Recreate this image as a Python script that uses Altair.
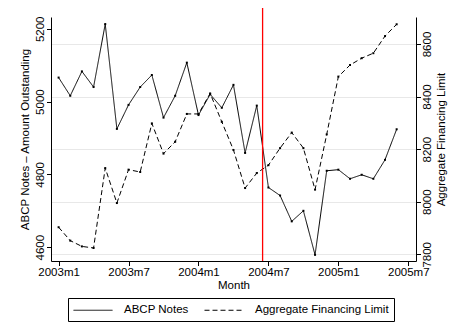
import altair as alt
import pandas as pd

# month index 0 = 2003m1 ... 29 = 2005m6
months = list(range(30))
abcp_notes = [5066, 5016, 5083, 5040, 5213, 4925, 4991, 5040, 5073, 4956,
              5016, 5107, 4963, 5020, 4983, 5046, 4859, 4989, 4764, 4742,
              4671, 4700, 4579, 4810, 4813, 4788, 4799, 4788, 4840, 4924]
agg_limit = [7903, 7852, 7830, 7824, 8128, 7995, 8122, 8113, 8298, 8183,
             8228, 8334, 8334, 8412, 8304, 8197, 8052, 8109, 8139, 8204,
             8263, 8204, 8046, 8256, 8476, 8520, 8546, 8565, 8630, 8675]
series_names = ["ABCP Notes", "Aggregate Financing Limit"]
x_tick_values = [0, 6, 12, 18, 24, 30]
x_tick_labels = ["2003m1", "2003m7", "2004m1", "2004m7", "2005m1", "2005m7"]
left_ticks = [4600, 4800, 5000, 5200]
right_ticks = [7800, 8000, 8200, 8400, 8600]
event_month = [17.5]

df = pd.DataFrame({"month": months, "abcp": abcp_notes, "afl": agg_limit})
ev = pd.DataFrame({"month": event_month, "lo": [4562.1], "hi": [5264.0]})

FONT = "Liberation Sans"
x_dom = [-0.652, 30.66]
left_dom = [4562.1, 5232.4]
right_dom = [7774.5, 8702.7]

label_expr = "[" + ",".join("'%s'" % s for s in x_tick_labels) + "][datum.value/6]"

x_enc = alt.X("month:Q", scale=alt.Scale(domain=x_dom, nice=False, zero=False),
              axis=alt.Axis(values=x_tick_values, labelExpr=label_expr, title="Month",
                            grid=False, tickSize=4.5, labelPadding=1, titlePadding=1,
                            domainColor="black", tickColor="black"))

dash_scale = alt.Scale(domain=series_names, range=[[1, 0], [5, 3]])

base = alt.Chart(df)

left_y = alt.Y("abcp:Q", scale=alt.Scale(domain=left_dom, nice=False, zero=False),
               axis=alt.Axis(values=left_ticks, format="d",
                             title="ABCP Notes – Amount Outstanding",
                             grid=False, orient="left", labelAngle=270, labelAlign="center",
                             labelBaseline="bottom", tickSize=4.5, labelPadding=1,
                             titlePadding=4, domainColor="black", tickColor="black"))

line_a = base.transform_calculate(series="'ABCP Notes'").mark_line(
    color="black", strokeWidth=1).encode(
    x=x_enc, y=left_y,
    strokeDash=alt.StrokeDash("series:N", scale=dash_scale,
                              legend=alt.Legend(title=None)))
pts_a = base.mark_square(color="black", size=4, opacity=1).encode(x="month:Q", y="abcp:Q")
rule = alt.Chart(ev).mark_rule(color="red", strokeWidth=1.3, clip=False).encode(
    x="month:Q", y="lo:Q", y2="hi:Q")

left_layer = alt.layer(line_a, pts_a, rule)

right_y = alt.Y("afl:Q", scale=alt.Scale(domain=right_dom, nice=False, zero=False),
                axis=alt.Axis(values=right_ticks, format="d",
                              title="Aggregate Financing Limit",
                              grid=True, gridColor="#e8e8e8", gridWidth=1,
                              orient="right", labelAngle=270, labelAlign="center",
                              labelBaseline="top", titleAngle=270, titleBaseline="top",
                              tickSize=4.5, labelPadding=1, titlePadding=2,
                              domainColor="black", tickColor="black"))

line_b = base.transform_calculate(series="'Aggregate Financing Limit'").mark_line(
    color="black", strokeWidth=1).encode(
    x="month:Q", y=right_y,
    strokeDash=alt.StrokeDash("series:N", scale=dash_scale))
pts_b = base.mark_square(color="black", size=4, opacity=1).encode(x="month:Q", y="afl:Q")

right_layer = alt.layer(line_b, pts_b)

chart = alt.layer(right_layer, left_layer).resolve_scale(y="independent").properties(
    width=365, height=244,
    autosize=alt.AutoSizeParams(type="none"),
    padding={"left": 43, "top": 9, "right": 32, "bottom": 64},
).configure_view(stroke=None).configure_axis(
    labelFont=FONT, titleFont=FONT, labelFontSize=11.5, titleFontSize=11.5,
    titleFontWeight="normal", labelColor="black", titleColor="black",
).configure_legend(
    orient="none", legendX=17, legendY=281, direction="horizontal",
    strokeColor="black", padding=5, symbolType="M-1,0H5", symbolSize=169,
    symbolStrokeWidth=1, symbolStrokeColor="black", symbolFillColor="transparent",
    labelFont=FONT, labelFontSize=11.5,
    labelColor="black", columnPadding=13, labelOffset=37, fillColor="white",
)

chart.save("out.html", embed_options={"renderer": "svg", "actions": False})
